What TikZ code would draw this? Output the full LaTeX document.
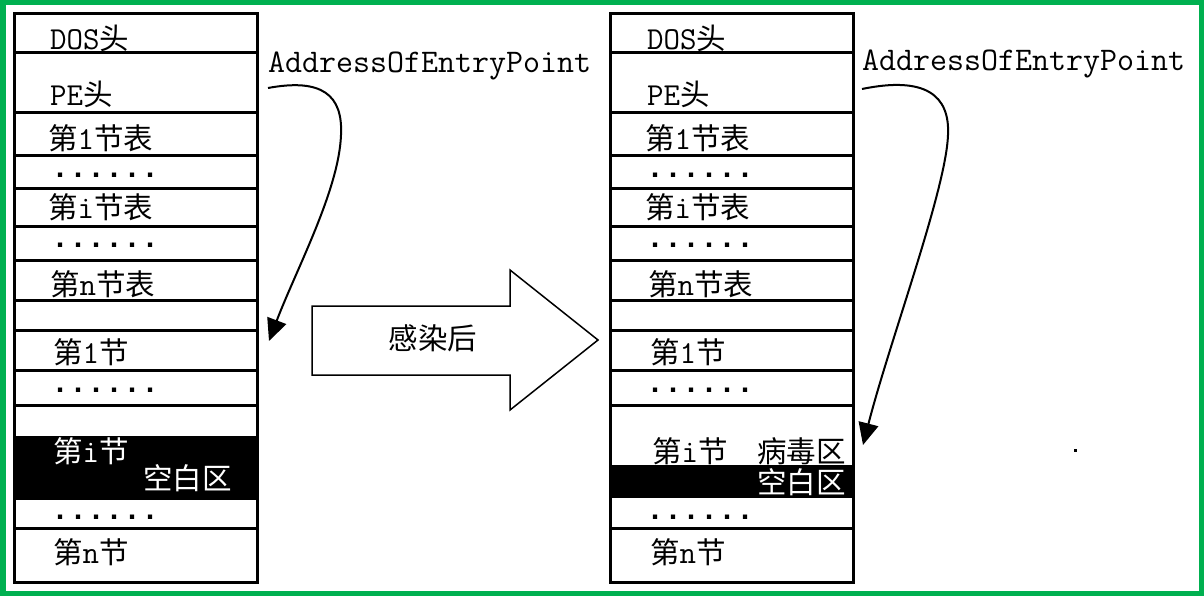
\documentclass[tikz,border=0pt]{standalone}
\usepackage{fontspec}
\newfontfamily\zhfont{Noto Sans CJK SC}
\newfontfamily\dotfont{Liberation Mono}
\newcommand{\zh}[1]{{\zhfont\fontsize{29.5}{29.5}\selectfont #1}}
\definecolor{framegreen}{RGB}{0, 176, 80}
\usetikzlibrary{
  arrows.meta,
  calc,
  positioning,
}
\tikzset{
  >={Triangle[length=22pt, width=20pt]},
  rowlabel/.style={anchor=west, inner sep=0pt, font=\ttfamily\fontsize{32}{32}\selectfont},
  dotrow/.style={anchor=west, inner sep=0pt, font=\dotfont\bfseries\fontsize{30}{30}\selectfont},
  addrlabel/.style={anchor=west, inner sep=0pt, font=\ttfamily\fontsize{33}{33}\selectfont},
  fileline/.style={line width=3pt},
  entryarrow/.style={->, line width=2pt},
}

\begin{document}
\begin{tikzpicture}[x=1pt, y=-1pt]
  \useasboundingbox (0,0) rectangle (1204,596);
  \draw [framegreen, line width=5.5pt] (2.75,2.75) rectangle (1201.25,593.25);

  % file before infection
  \fill (14,436) rectangle (257,500);
  \foreach \y in {53,113,156,189,226,260,300,330,370,405,528}
    \draw [fileline] (14,\y) -- (257,\y);
  \draw [fileline] (14,14) rectangle (257,582);
  \node [rowlabel] at (50,38) (dosL) {DOS\zh{头}};
  \node [rowlabel] at (50,94) (peL) {PE\zh{头}};
  \node [rowlabel] at (48,138) (tab1L) {\zh{第}1\zh{节表}};
  \node [dotrow] at (51,175) (dotsaL) {......};
  \node [rowlabel] at (48,207) (tabiL) {\zh{第}i\zh{节表}};
  \node [dotrow] at (51,245) (dotsbL) {......};
  \node [rowlabel] at (50,284) (tabnL) {\zh{第}n\zh{节表}};
  \node [rowlabel] at (53,352) (sec1L) {\zh{第}1\zh{节}};
  \node [dotrow] at (51,390) (dotscL) {......};
  \node [rowlabel, text=white] at (53,451) (seciL) {\zh{第}i\zh{节}};
  \node [rowlabel, text=white] at (143,478) (gapL) {\zh{空白区}};
  \node [dotrow] at (51,517) (dotsdL) {......};
  \node [rowlabel] at (53,552) (secnL) {\zh{第}n\zh{节}};

  \node [addrlabel] at (268,66) (addrL) {AddressOfEntryPoint};
  \coordinate (entryL) at (269,341);
  \draw [entryarrow] ([yshift=-22pt]addrL.west)
    .. controls (322,78) and (343,95) .. (341,135)
    .. controls (339,190) and (296,270) .. (entryL);

  % infection arrow
  \draw [line width=1.5pt] (312,306) -- (510,306) -- (510,270) -- (598,340)
    -- (510,410) -- (510,375) -- (312,375) -- cycle;
  \node [inner sep=0pt] at (433,338) (infect) {\zh{感染后}};

  % file after infection
  \fill (610,465) rectangle (853,498);
  \foreach \y in {53,113,156,189,226,260,300,330,370,405,528}
    \draw [fileline] (610,\y) -- (853,\y);
  \draw [fileline] (610,14) rectangle (853,582);
  \node [rowlabel] at (647,38) (dosR) {DOS\zh{头}};
  \node [rowlabel] at (647,94) (peR) {PE\zh{头}};
  \node [rowlabel] at (645,138) (tab1R) {\zh{第}1\zh{节表}};
  \node [dotrow] at (646,175) (dotsaR) {......};
  \node [rowlabel] at (645,207) (tabiR) {\zh{第}i\zh{节表}};
  \node [dotrow] at (646,245) (dotsbR) {......};
  \node [rowlabel] at (648,284) (tabnR) {\zh{第}n\zh{节表}};
  \node [rowlabel] at (650,352) (sec1R) {\zh{第}1\zh{节}};
  \node [dotrow] at (646,390) (dotscR) {......};
  \node [rowlabel] at (652,451) (seciR) {\zh{第}i\zh{节}};
  \node [rowlabel] at (757,451) (virusR) {\zh{病毒区}};
  \node [rowlabel, text=white] at (757,482) (gapR) {\zh{空白区}};
  \node [dotrow] at (646,517) (dotsdR) {......};
  \node [rowlabel] at (650,552) (secnR) {\zh{第}n\zh{节}};

  \node [addrlabel] at (862,64) (addrR) {AddressOfEntryPoint};
  \coordinate (entryR) at (863,445);
  \draw [entryarrow] ([yshift=-25pt]addrR.west)
    .. controls (925,76) and (950,95) .. (948,135)
    .. controls (946,190) and (890,340) .. (entryR);

  \fill (1074,449) rectangle (1077,452);
\end{tikzpicture}
\end{document}
